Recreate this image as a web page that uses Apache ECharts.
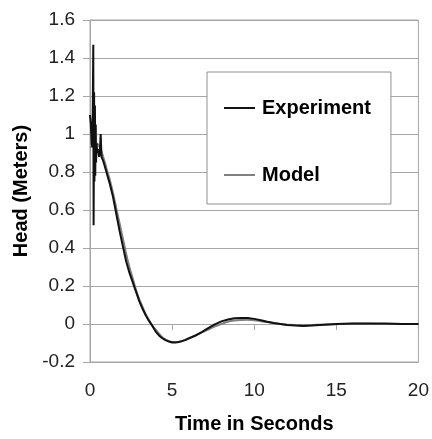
<!DOCTYPE html>
<html>
<head>
<meta charset="utf-8">
<script src="https://cdn.jsdelivr.net/npm/echarts@6/dist/echarts.min.js"></script>
<style>
  html, body { margin: 0; padding: 0; background: #fff; }
  #chart { width: 432px; height: 439px; }
</style>
</head>
<body>
<div id="chart"></div>
<script>
// time (s) and head (m)
const expTime = [0, 0.05, 0.1, 0.15, 0.2, 0.22, 0.25, 0.27, 0.3, 0.32, 0.35, 0.37, 0.4, 0.45, 0.5, 0.55, 0.6, 0.65, 0.7, 0.8, 0.9,
  1.0, 1.2, 1.4, 1.6, 1.8, 2.0, 2.2, 2.4, 2.6, 2.8, 3.0, 3.2, 3.4, 3.6, 3.8, 4.0, 4.2, 4.4, 4.6, 4.8, 5.0, 5.2, 5.4, 5.6, 5.8,
  6.0, 6.4, 6.8, 7.2, 7.6, 8.0, 8.4, 8.8, 9.2, 9.6, 10, 10.4, 10.8, 11.2, 11.6, 12, 12.5, 13, 13.5, 14, 15, 16, 17, 18, 19, 20];
const expHead = [1.10, 1.05, 0.95, 0.93, 1.47, 0.52, 1.22, 0.75, 1.15, 0.78, 1.05, 0.85, 0.95, 0.90, 0.92, 0.88, 0.90, 1.00, 0.88, 0.86, 0.83,
  0.80, 0.74, 0.67, 0.58, 0.49, 0.41, 0.33, 0.27, 0.22, 0.17, 0.12, 0.08, 0.045, 0.015, -0.01, -0.04, -0.06, -0.075, -0.085, -0.092, -0.097, -0.098, -0.095, -0.09, -0.085,
  -0.077, -0.062, -0.043, -0.022, -0.002, 0.014, 0.024, 0.03, 0.032, 0.031, 0.027, 0.02, 0.012, 0.005, 0.0, -0.005, -0.008, -0.01, -0.008, -0.005, 0.0, 0.002, 0.003, 0.002, 0.0, 0.0];

const modelTime = [0, 0.2, 0.4, 0.6, 0.8, 1.0, 1.2, 1.4, 1.6, 1.8, 2.0, 2.2, 2.4, 2.6, 2.8, 3.0, 3.2, 3.4, 3.6, 3.8, 4.0, 4.4, 4.8, 5.2,
  5.6, 6.0, 6.4, 6.8, 7.2, 7.6, 8.0, 8.4, 8.8, 9.2, 9.6, 10, 10.4, 10.8, 11.2, 11.6, 12, 13, 14, 15, 16, 17, 18, 20];
const modelHead = [0.93, 0.94, 0.95, 0.93, 0.88, 0.82, 0.76, 0.69, 0.61, 0.53, 0.45, 0.37, 0.30, 0.24, 0.18, 0.13, 0.09, 0.05, 0.02, -0.01, -0.03, -0.07, -0.09, -0.095,
  -0.09, -0.075, -0.06, -0.045, -0.03, -0.012, 0.0, 0.012, 0.018, 0.021, 0.022, 0.02, 0.015, 0.01, 0.004, 0.0, -0.004, -0.006, -0.004, -0.001, 0.001, 0.001, 0.0, 0.0];

const seriesNames = ['Experiment', 'Model'];

const font = "'Liberation Sans', Arial, sans-serif";
const gray = '#a6a6a6';

const chart = echarts.init(document.getElementById('chart'));

chart.setOption({
  animation: false,
  grid: {
    left: 90, right: 13, top: 20, bottom: 69,
    show: true, borderColor: gray, borderWidth: 1
  },
  legend: {
    data: seriesNames,
    orient: 'vertical',
    left: 207, top: 72,
    padding: [26, 20, 19, 17],
    itemGap: 47,
    itemWidth: 31,
    itemHeight: 2,
    icon: 'rect',
    backgroundColor: '#fff',
    borderColor: '#909090',
    borderWidth: 1,
    textStyle: { fontFamily: font, fontSize: 20, fontWeight: 'bold', color: '#000', padding: [0, 0, 0, 2] }
  },
  xAxis: {
    type: 'value',
    min: 0, max: 20, interval: 5,
    name: 'Time in Seconds',
    nameLocation: 'middle',
    nameGap: 52,
    nameTextStyle: { fontFamily: font, fontSize: 20, fontWeight: 'bold', color: '#000' },
    axisLine: { lineStyle: { color: gray } },
    axisTick: { show: true, length: 6, lineStyle: { color: gray } },
    axisLabel: { fontFamily: font, fontSize: 19, color: '#222', margin: 19 },
    splitLine: { show: false }
  },
  yAxis: {
    type: 'value',
    min: -0.2, max: 1.6, interval: 0.2,
    name: 'Head (Meters)',
    nameLocation: 'middle',
    nameGap: 59,
    nameTextStyle: { fontFamily: font, fontSize: 20, fontWeight: 'bold', color: '#000' },
    axisLine: { show: true, lineStyle: { color: gray } },
    axisTick: { show: true, length: 7, lineStyle: { color: gray } },
    axisLabel: {
      fontFamily: font, fontSize: 19, color: '#222', margin: 15,
      formatter: v => String(+v.toFixed(1))
    },
    splitLine: { show: true, lineStyle: { color: gray, width: 1 } }
  },
  series: [
    {
      name: 'Model',
      type: 'line',
      data: modelTime.map((t, i) => [t, modelHead[i]]),
      symbol: 'none',
      smooth: 0.3,
      lineStyle: { color: '#808080', width: 2 },
      itemStyle: { color: '#808080' },
      z: 2
    },
    {
      name: 'Experiment',
      type: 'line',
      data: expTime.map((t, i) => [t, expHead[i]]),
      symbol: 'none',
      lineStyle: { color: '#111', width: 2 },
      itemStyle: { color: '#111' },
      z: 3
    }
  ]
});
</script>
</body>
</html>
